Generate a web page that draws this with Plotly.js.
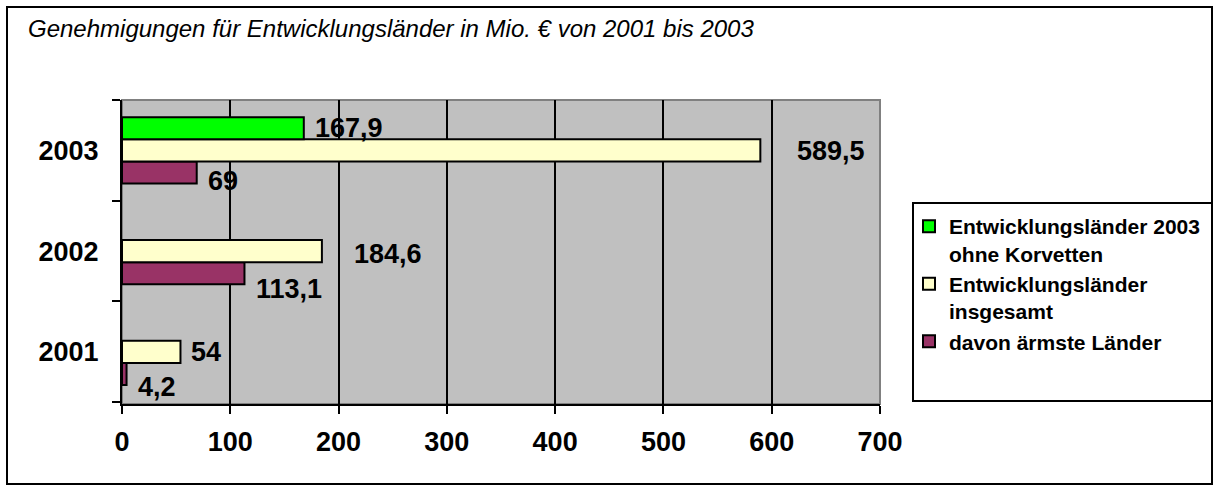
<!DOCTYPE html>
<html>
<head>
<meta charset="utf-8">
<script src="https://cdn.plot.ly/plotly-3.0.1.min.js"></script>
<style>html,body{margin:0;padding:0;background:#fff;}#chart{width:1214px;height:486px;}</style>
</head>
<body>
<div id="chart"></div>
<script>
// ---- data ----
const categories = ['2001', '2002', '2003'];
const ohneKorvetten = [null, null, 167.9];   // Entwicklungsländer 2003 ohne Korvetten
const insgesamt = [54, 184.6, 589.5];        // Entwicklungsländer insgesamt
const aermste = [4.2, 113.1, 69];            // davon ärmste Länder
const seriesNames = ['Entwicklungsländer 2003<br>ohne Korvetten', 'Entwicklungsländer<br>insgesamt', 'davon ärmste Länder'];
const xTicks = [0, 100, 200, 300, 400, 500, 600, 700];
const titleText = 'Genehmigungen für Entwicklungsländer in Mio. € von 2001 bis 2003';

// ---- styles ----
const colors = ['#00FF00', '#FFFFCC', '#993366'];
const FONT = 'Liberation Sans, Arial, Helvetica, sans-serif';
const W = 1214, H = 486;
const M = {l: 122, r: 334, t: 100, b: 82, autoexpand: false};
const bargap = 0.34;
// label offsets [xshift, yshift] per series (green, yellow, maroon) per category
const labelShift = [
  [null, null, [9, 0]],
  [[9, 0], [30, -3], [35, -1]],
  [[9, -13], [10, -16], [9, -8]]
];

const pw = W - M.l - M.r, ph = H - M.t - M.b;
const px = x => (x - M.l) / pw;
const py = y => (H - M.b - y) / ph;

const seriesData = [ohneKorvetten, insgesamt, aermste];
// traces drawn bottom-to-top: maroon, yellow, green
const order = [2, 1, 0];
const traces = order.map(i => ({
  type: 'bar', orientation: 'h',
  y: categories, x: seriesData[i],
  name: seriesNames[i],
  marker: {color: colors[i], line: {color: '#000', width: 2}},
  hoverinfo: 'x+name'
}));

const slot = (1 - bargap) / 3;
const slotOffset = [slot, 0, -slot];
const fmt = v => String(v).replace('.', ',');
const annotations = [];
seriesData.forEach((arr, s) => {
  arr.forEach((v, c) => {
    if (v === null) return;
    const sh = labelShift[s][c];
    annotations.push({
      x: v, y: c + slotOffset[s], xref: 'x', yref: 'y',
      text: fmt(v), showarrow: false, xanchor: 'left', yanchor: 'middle',
      xshift: sh[0], yshift: sh[1],
      font: {family: FONT, size: 27, color: '#000', weight: 'bold'}
    });
  });
});

const shapes = [
  // outer chart border
  {type: 'rect', xref: 'paper', yref: 'paper', x0: px(7), x1: px(1212), y0: py(7), y1: py(484),
   line: {color: '#000', width: 2}, fillcolor: 'rgba(0,0,0,0)', layer: 'below'},
  // plot area border (grey)
  {type: 'rect', xref: 'paper', yref: 'paper', x0: 0, x1: 1, y0: 0, y1: 1,
   line: {color: '#808080', width: 2}, fillcolor: 'rgba(0,0,0,0)', layer: 'below'},
  // legend box
  {type: 'rect', xref: 'paper', yref: 'paper', x0: px(913), x1: px(1212), y0: py(203), y1: py(401),
   line: {color: '#000', width: 2}, fillcolor: '#FFFFFF', layer: 'above'}
];

const layout = {
  width: W, height: H,
  margin: M,
  paper_bgcolor: '#FFFFFF', plot_bgcolor: '#C0C0C0',
  separators: ',.',
  barmode: 'group', bargap: bargap, bargroupgap: 0,
  font: {family: FONT, color: '#000'},
  title: {
    text: titleText, xref: 'container', yref: 'container',
    x: 28 / W, xanchor: 'left', y: 1 - 29 / H, yanchor: 'middle',
    font: {family: FONT, size: 24, style: 'italic', color: '#000'}
  },
  xaxis: {
    range: [0, 700], tickvals: xTicks, ticktext: xTicks.map(String),
    showgrid: true, gridcolor: '#000', gridwidth: 2,
    zeroline: false, showline: true, linecolor: '#000', linewidth: 2,
    ticks: 'outside', ticklen: 8, tickwidth: 2, tickcolor: '#000',
    ticklabelstandoff: 5,
    tickfont: {family: FONT, size: 27, weight: 'bold', color: '#000'},
    fixedrange: true
  },
  yaxis: {
    type: 'category', categoryorder: 'array', categoryarray: categories,
    showgrid: false, zeroline: false, showline: true, linecolor: '#000', linewidth: 2,
    ticks: 'outside', tickson: 'boundaries', ticklen: 8, tickwidth: 2, tickcolor: '#000',
    ticklabelstandoff: 16,
    tickfont: {family: FONT, size: 27, weight: 'bold', color: '#000'},
    fixedrange: true
  },
  showlegend: true,
  legend: {
    x: px(909), xanchor: 'left', xref: 'paper',
    y: py(206), yanchor: 'top', yref: 'paper',
    traceorder: 'reversed', valign: 'top',
    bgcolor: 'rgba(0,0,0,0)', borderwidth: 0,
    font: {family: FONT, size: 21, weight: 'bold', color: '#000'}
  },
  annotations: annotations,
  shapes: shapes
};

Plotly.newPlot('chart', traces, layout, {displayModeBar: false, staticPlot: true});
</script>
</body>
</html>
